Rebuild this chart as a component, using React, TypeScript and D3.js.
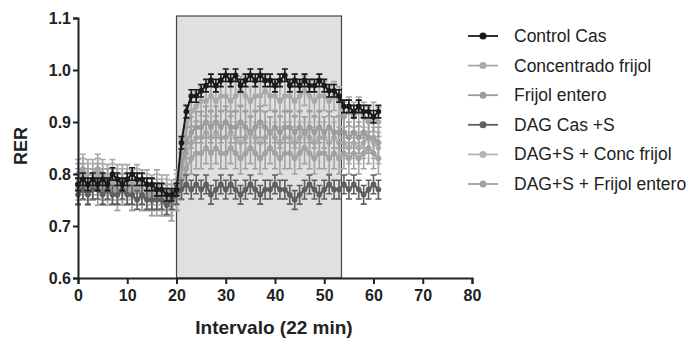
import { useEffect, useRef } from "react"
import * as d3 from "d3"

const xTicks = [0, 10, 20, 30, 40, 50, 60, 70, 80]
const yTicks = [0.6, 0.7, 0.8, 0.9, 1.0, 1.1]
const shadedRange = [20, 53.5]

const seriesNames = [
  "Control Cas",
  "Concentrado frijol",
  "Frijol entero",
  "DAG Cas +S",
  "DAG+S + Conc frijol",
  "DAG+S + Frijol entero",
]

const controlCas = [
  0.78, 0.79, 0.78, 0.79, 0.78, 0.79, 0.78, 0.8, 0.79, 0.78,
  0.79, 0.8, 0.79, 0.79, 0.78, 0.78, 0.77, 0.77, 0.76, 0.76,
  0.77, 0.86, 0.92, 0.95, 0.95, 0.96, 0.97, 0.98, 0.97, 0.98,
  0.99, 0.98, 0.99, 0.97, 0.98, 0.99, 0.98, 0.99, 0.98, 0.98,
  0.97, 0.98, 0.99, 0.97, 0.98, 0.97, 0.98, 0.97, 0.97, 0.98,
  0.97, 0.96, 0.96, 0.95, 0.93, 0.93, 0.92, 0.93, 0.92, 0.92,
  0.91, 0.92,
]
const concFrijol = [
  0.8, 0.81, 0.8, 0.8, 0.81, 0.8, 0.79, 0.8, 0.79, 0.79,
  0.79, 0.78, 0.79, 0.78, 0.78, 0.77, 0.78, 0.77, 0.77, 0.76,
  0.78, 0.84, 0.89, 0.92, 0.93, 0.94, 0.94, 0.95, 0.94, 0.95,
  0.95, 0.94, 0.95, 0.96, 0.95, 0.94, 0.95, 0.95, 0.96, 0.95,
  0.95, 0.94, 0.95, 0.95, 0.94, 0.95, 0.96, 0.95, 0.94, 0.95,
  0.95, 0.94, 0.95, 0.94, 0.91, 0.92, 0.91, 0.92, 0.91, 0.9,
  0.91, 0.9,
]
const frijolEntero = [
  0.77, 0.78, 0.77, 0.78, 0.77, 0.77, 0.78, 0.77, 0.76, 0.77,
  0.77, 0.76, 0.77, 0.76, 0.76, 0.75, 0.76, 0.75, 0.75, 0.74,
  0.76, 0.81, 0.86, 0.88, 0.89, 0.89, 0.9, 0.89, 0.9, 0.89,
  0.9, 0.89, 0.89, 0.9, 0.89, 0.88, 0.89, 0.9, 0.89, 0.88,
  0.89, 0.88, 0.89, 0.89, 0.88, 0.89, 0.88, 0.89, 0.88, 0.89,
  0.88, 0.89, 0.88, 0.88, 0.88, 0.87, 0.88, 0.87, 0.88, 0.87,
  0.87, 0.86,
]
const dagCas = [
  0.76, 0.77, 0.76, 0.77, 0.77, 0.76, 0.77, 0.76, 0.76, 0.77,
  0.76, 0.76, 0.75, 0.76, 0.75, 0.75, 0.75, 0.75, 0.74, 0.75,
  0.76, 0.77, 0.78, 0.77, 0.78, 0.77, 0.78, 0.76, 0.77, 0.78,
  0.77, 0.78, 0.77, 0.76, 0.77, 0.78, 0.77, 0.76, 0.77, 0.77,
  0.78, 0.77, 0.77, 0.76, 0.75, 0.76, 0.77, 0.78, 0.77, 0.76,
  0.77, 0.78, 0.77, 0.77, 0.78, 0.77, 0.78, 0.77, 0.76, 0.77,
  0.78, 0.77,
]
const dagConc = [
  0.79, 0.8, 0.79, 0.79, 0.8, 0.79, 0.78, 0.79, 0.78, 0.78,
  0.78, 0.77, 0.78, 0.77, 0.77, 0.76, 0.77, 0.76, 0.76, 0.75,
  0.77, 0.8, 0.84, 0.86, 0.87, 0.87, 0.88, 0.87, 0.88, 0.87,
  0.87, 0.88, 0.87, 0.86, 0.87, 0.88, 0.87, 0.86, 0.87, 0.88,
  0.87, 0.86, 0.87, 0.87, 0.86, 0.87, 0.88, 0.87, 0.86, 0.87,
  0.87, 0.86, 0.87, 0.86, 0.86, 0.85, 0.86, 0.85, 0.86, 0.87,
  0.86, 0.85,
]
const dagEntero = [
  0.78, 0.79, 0.78, 0.78, 0.79, 0.78, 0.77, 0.78, 0.77, 0.77,
  0.77, 0.76, 0.77, 0.76, 0.76, 0.76, 0.75, 0.75, 0.75, 0.74,
  0.76, 0.78, 0.81, 0.83, 0.84, 0.84, 0.85, 0.84, 0.85, 0.84,
  0.84, 0.85, 0.84, 0.83, 0.84, 0.85, 0.84, 0.83, 0.84, 0.85,
  0.84, 0.83, 0.84, 0.84, 0.83, 0.84, 0.85, 0.84, 0.83, 0.84,
  0.84, 0.83, 0.84, 0.83, 0.84, 0.83, 0.84, 0.83, 0.84, 0.85,
  0.84, 0.83,
]
const seriesSem = [0.012, 0.028, 0.03, 0.018, 0.03, 0.03]

const colors = ["#1a1a1a", "#a9a9a9", "#9c9c9c", "#5f5f5f", "#b4b4b4", "#a2a2a2"]

export default function App() {
  const svgRef = useRef<SVGSVGElement>(null)

  useEffect(() => {
    if (!svgRef.current) return
    const width = 697
    const height = 339
    const svg = d3.select(svgRef.current).attr("width", width).attr("height", height)
    svg.selectAll("*").remove()

    const x = d3.scaleLinear().domain([0, 80]).range([78, 472])
    const y = d3.scaleLinear().domain([0.6, 1.1]).range([278, 18])

    const font = "'Liberation Sans', Arial, sans-serif"
    const allSeries = [controlCas, concFrijol, frijolEntero, dagCas, dagConc, dagEntero]

    // shaded period
    svg.append("rect")
      .attr("x", x(shadedRange[0]))
      .attr("y", 16)
      .attr("width", x(shadedRange[1]) - x(shadedRange[0]))
      .attr("height", y(0.6) - 16)
      .attr("fill", "#e0e0e0")
      .attr("stroke", "#444")
      .attr("stroke-width", 1.2)

    // back-to-front so black ends up on top
    const order = [4, 1, 2, 5, 3, 0]
    order.forEach((si) => {
      const vals = allSeries[si]
      const sem = seriesSem[si]
      const g = svg.append("g")
      const line = d3.line<number>().x((d, i) => x(i)).y((d) => y(d))
      g.append("path")
        .datum(vals)
        .attr("d", line)
        .attr("fill", "none")
        .attr("stroke", colors[si])
        .attr("stroke-width", si === 0 ? 2 : 2.5)
      g.selectAll(".err")
        .data(vals)
        .enter()
        .append("path")
        .attr("d", (d, i) => {
          const cx = x(i)
          const t = y(d + sem)
          const b = y(d - sem)
          return `M${cx},${t}V${b}M${cx - 3},${t}H${cx + 3}M${cx - 3},${b}H${cx + 3}`
        })
        .attr("stroke", colors[si])
        .attr("stroke-width", 1.6)
        .attr("fill", "none")
      g.selectAll(".pt")
        .data(vals)
        .enter()
        .append("circle")
        .attr("cx", (d, i) => x(i))
        .attr("cy", (d) => y(d))
        .attr("r", 2.8)
        .attr("fill", colors[si])
    })

    // axes
    const yAxis = svg.append("g").attr("transform", `translate(${x(0)},0)`)
      .call(d3.axisLeft(y).tickValues(yTicks).tickSize(5).tickFormat(d3.format(".1f")))
    const xAxis = svg.append("g").attr("transform", `translate(0,${y(0.6)})`)
      .call(d3.axisBottom(x).tickValues(xTicks).tickSize(6).tickFormat(d3.format("d")))
    ;[yAxis, xAxis].forEach((a) => {
      a.select(".domain").attr("stroke", "#222").attr("stroke-width", 2)
      a.selectAll(".tick line").attr("stroke", "#222").attr("stroke-width", 2)
      a.selectAll("text")
        .attr("fill", "#222")
        .attr("font-family", font)
        .attr("font-weight", "bold")
        .attr("font-size", 16)
    })
    yAxis.selectAll("text").attr("x", -7)
    xAxis.selectAll("text").attr("y", 12)

    svg.append("text")
      .attr("transform", `translate(27,146) rotate(-90)`)
      .attr("text-anchor", "middle")
      .attr("font-family", font)
      .attr("font-weight", "bold")
      .attr("font-size", 18)
      .attr("fill", "#222")
      .text("RER")

    svg.append("text")
      .attr("x", 274)
      .attr("y", 334)
      .attr("text-anchor", "middle")
      .attr("font-family", font)
      .attr("font-weight", "bold")
      .attr("font-size", 19)
      .attr("fill", "#222")
      .text("Intervalo (22 min)")

    // legend
    const legend = svg.append("g")
    seriesNames.forEach((name, i) => {
      const by = 42 + i * 29.6
      const row = legend.append("g")
      row.append("line")
        .attr("x1", 468).attr("x2", 498)
        .attr("y1", by - 6).attr("y2", by - 6)
        .attr("stroke", colors[i])
        .attr("stroke-width", 1.8)
      row.append("circle")
        .attr("cx", 483).attr("cy", by - 6).attr("r", 3.5)
        .attr("fill", colors[i])
      row.append("text")
        .attr("x", 514)
        .attr("y", by)
        .attr("font-family", font)
        .attr("font-size", 17.5)
        .attr("fill", "#222")
        .text(name)
    })
  }, [])

  return (
    <svg
      ref={svgRef}
      style={{ position: "absolute", left: 0, top: 0, background: "#fff" }}
    />
  )
}
